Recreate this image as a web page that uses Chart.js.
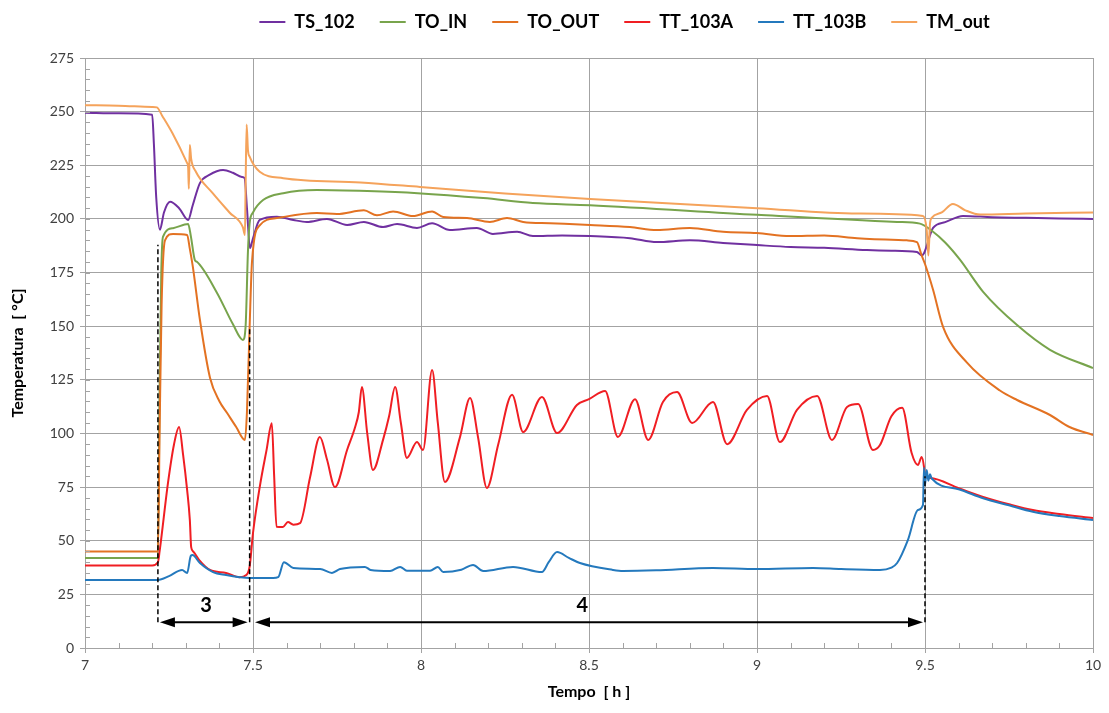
<!DOCTYPE html>
<html>
<head>
<meta charset="utf-8">
<title>Temperature</title>
<script src="https://cdn.jsdelivr.net/npm/chart.js@4.4.1/dist/chart.umd.min.js"></script>
<style>
  html, body { margin: 0; padding: 0; background: #fff; }
  #wrap { position: relative; width: 1109px; height: 713px; }
</style>
</head>
<body>
<div id="wrap"><canvas id="tempChart"></canvas></div>
<script>
// series names and colours
const seriesNames = ['TS_102', 'TO_IN', 'TO_OUT', 'TT_103A', 'TT_103B', 'TM_out'];
const seriesColors = ['#7030A0', '#78A44C', '#E37222', '#F01E23', '#2479BD', '#F5A35B'];

// axis ticks
const xTicks = [7, 7.5, 8, 8.5, 9, 9.5, 10];
const yTicks = [0, 25, 50, 75, 100, 125, 150, 175, 200, 225, 250, 275];

// [time h, temperature °C]
const TS_102 = [[7.00,249.5],[7.10,249.2],[7.20,248.6],[7.205,235],[7.212,210],[7.223,195],[7.235,203],[7.253,208],[7.28,205],[7.307,199.5],[7.32,206],[7.342,216.7],[7.37,220.5],[7.411,222.8],[7.44,221.5],[7.467,219.5],[7.475,219],[7.482,205],[7.491,186.4],[7.50,191],[7.52,199.5],[7.571,201],[7.62,199.5],[7.66,198.6],[7.72,200],[7.78,197.2],[7.83,198.6],[7.887,196.2],[7.929,197.6],[7.988,195.8],[8.033,198],[8.086,194.8],[8.166,195.8],[8.214,193],[8.286,194],[8.333,192],[8.42,192.3],[8.503,192],[8.622,191],[8.702,189.2],[8.80,190],[8.899,188.8],[9.0,187.8],[9.1,186.9],[9.2,186.5],[9.327,185.5],[9.40,185.2],[9.476,184.6],[9.49,183],[9.497,184],[9.524,195.8],[9.56,198.5],[9.613,201.4],[9.70,200.8],[9.80,200.5],[9.90,200.2],[10.0,200]];

const TO_IN = [[7.00,42],[7.217,42],[7.222,120],[7.227,175],[7.232,191.6],[7.262,195.7],[7.307,197.6],[7.315,192],[7.327,180.8],[7.333,180],[7.393,165.5],[7.44,151],[7.47,143.6],[7.478,150],[7.485,185],[7.49,198],[7.50,203],[7.53,208.8],[7.59,212],[7.69,213.5],[7.84,213],[7.99,212],[8.185,209.7],[8.333,207.4],[8.503,206.4],[9.0,201.9],[9.417,198.6],[9.485,197.8],[9.524,194],[9.56,189],[9.604,181],[9.673,166],[9.774,150.5],[9.872,139],[10.0,130.5]];

const TO_OUT = [[7.00,45],[7.217,45],[7.222,100],[7.228,160],[7.238,190],[7.262,193],[7.304,192.5],[7.312,186],[7.321,177.6],[7.342,153],[7.372,126],[7.40,115],[7.423,109.5],[7.45,103],[7.476,97],[7.482,110],[7.49,150],[7.497,180],[7.52,197],[7.571,200.4],[7.69,202.7],[7.75,202.3],[7.83,204],[7.869,201.7],[7.917,203.5],[7.976,201.3],[8.033,203.5],[8.066,200.9],[8.137,200.4],[8.205,198.6],[8.256,200.4],[8.304,198.6],[8.384,198],[8.503,197.2],[8.622,196.2],[8.702,194.8],[8.80,195.8],[8.899,194],[9.0,193.4],[9.098,192],[9.2,192.3],[9.298,191],[9.446,190],[9.476,189.2],[9.49,183],[9.50,179],[9.524,167],[9.554,149.6],[9.625,133],[9.723,120],[9.774,115.6],[9.872,108.6],[9.93,103],[10.0,99.3]];

const TT_103A = [[7.00,38.5],[7.20,38.5],[7.217,40],[7.222,45],[7.247,77],[7.265,95],[7.28,103],[7.292,90],[7.304,73.6],[7.312,59.7],[7.316,47],[7.322,45],[7.34,41],[7.372,36.4],[7.42,35],[7.46,33],[7.48,34],[7.49,38],[7.50,53.6],[7.52,75],[7.54,92],[7.556,104.7],[7.563,80],[7.570,56.5],[7.589,56.4],[7.604,58.7],[7.62,57.5],[7.64,58.2],[7.670,79.7],[7.699,98.3],[7.72,88],[7.744,75],[7.78,92.3],[7.804,103],[7.815,110],[7.824,121.7],[7.840,100],[7.857,83],[7.887,97],[7.905,108],[7.923,121.7],[7.940,105],[7.958,88.6],[7.988,96],[8.006,92.3],[8.033,129.6],[8.05,105],[8.071,77.4],[8.116,98.3],[8.146,116.5],[8.17,98],[8.196,74.6],[8.23,95],[8.271,118],[8.304,100.7],[8.36,117],[8.405,100.2],[8.464,113.3],[8.50,116],[8.548,119.8],[8.586,98.4],[8.637,116],[8.676,97],[8.72,114.7],[8.762,119.3],[8.807,104.9],[8.869,114.7],[8.911,95],[8.97,111],[9.03,117.5],[9.068,96],[9.119,111],[9.179,117.5],[9.223,97],[9.268,112.3],[9.301,113.7],[9.345,92.3],[9.366,94.6],[9.40,108],[9.432,112],[9.46,91],[9.479,85.3],[9.49,89],[9.497,84.4],[9.50,79.7],[9.515,79.2],[9.60,74.5],[9.673,70.4],[9.75,67],[9.821,64.3],[9.90,62.5],[10.0,60.6]];

const TT_103B = [[7.00,31.7],[7.217,31.7],[7.25,33.5],[7.289,36.4],[7.304,35],[7.315,43],[7.32,43.3],[7.342,39.6],[7.381,35.4],[7.42,34],[7.46,33],[7.49,32.6],[7.56,32.6],[7.575,33],[7.592,40],[7.62,37.3],[7.70,36.8],[7.735,35],[7.759,36.8],[7.833,37.8],[7.85,36.4],[7.908,35.9],[7.938,37.8],[7.958,36],[8.027,36],[8.05,37.8],[8.066,35.4],[8.12,36.5],[8.155,38.7],[8.185,35.9],[8.274,37.8],[8.36,35.4],[8.38,40],[8.405,44.7],[8.44,42],[8.473,39.6],[8.571,36.4],[8.601,35.9],[8.70,36.2],[8.869,37.3],[9.0,36.8],[9.167,37.3],[9.25,36.8],[9.366,36.4],[9.40,37.5],[9.417,39.6],[9.449,50.3],[9.479,64.3],[9.494,66.7],[9.497,84],[9.50,76],[9.505,83],[9.51,78],[9.515,81],[9.52,79],[9.60,74],[9.673,69.8],[9.75,66.5],[9.821,63.5],[9.90,61.5],[10.0,59.7]];

const TM_out = [[7.00,253],[7.10,252.8],[7.20,252.2],[7.214,252],[7.23,248],[7.26,240],[7.304,226],[7.307,224],[7.309,214],[7.312,234.5],[7.316,228],[7.33,222],[7.38,212],[7.43,203],[7.47,196],[7.476,192.5],[7.478,215],[7.481,244],[7.485,232],[7.49,229],[7.52,222],[7.59,219],[7.82,217],[7.997,214.9],[8.25,211.8],[8.503,209.3],[9.0,205],[9.3,202.5],[9.494,201.4],[9.505,195],[9.51,183],[9.515,198],[9.52,200.5],[9.55,203],[9.583,207],[9.62,204],[9.664,202],[9.80,202.5],[10.0,203]];

// phase markers: dashed verticals [x, yTop] and arrows [xFrom, xTo, label, labelX]
const phaseLines = [[7.217, 188], [7.49, 150], [9.5, 80]];
const phaseArrows = [[7.217, 7.49, '3', 7.36], [7.50, 9.5, '4', 8.48]];
const arrowY = 12;
const labelY = 20;

const seriesData = [TS_102, TO_IN, TO_OUT, TT_103A, TT_103B, TM_out];

const gridColor = '#a3a3a3';
const textColor = '#404040';

// legend: wide item spacing, pulled up and to the right like the original
const legendGap = {
  id: 'legendGap',
  beforeInit(chart) {
    const fit = chart.legend.fit;
    chart.legend.fit = function () {
      fit.bind(chart.legend)();
      this.height += 5;
    };
  },
  afterLayout(chart) {
    const lg = chart.legend;
    lg.top -= 12;
    lg.bottom -= 12;
    lg.left += 76;
    lg.right += 76;
  }
};

// extra drawing: minor ticks, dashed phase lines, arrows
const phasePlugin = {
  id: 'phases',
  afterDraw(chart) {
    const { ctx, chartArea: area, scales: { x, y } } = chart;
    ctx.save();

    // minor ticks
    ctx.strokeStyle = gridColor;
    ctx.lineWidth = 1;
    ctx.beginPath();
    for (let v = 7.1; v < 10; v += 0.1) {
      const px = Math.round(x.getPixelForValue(v)) + 0.5;
      ctx.moveTo(px, area.bottom);
      ctx.lineTo(px, area.bottom - 5);
    }
    for (let v = 5; v < 275; v += 5) {
      const py = Math.round(y.getPixelForValue(v)) + 0.5;
      ctx.moveTo(area.left, py);
      ctx.lineTo(area.left + 5, py);
    }
    ctx.stroke();

    // dashed verticals
    ctx.strokeStyle = '#000';
    ctx.lineWidth = 1.5;
    ctx.setLineDash([5, 3]);
    phaseLines.forEach(([xv, top]) => {
      const px = x.getPixelForValue(xv);
      ctx.beginPath();
      ctx.moveTo(px, y.getPixelForValue(arrowY));
      ctx.lineTo(px, y.getPixelForValue(top));
      ctx.stroke();
    });
    ctx.setLineDash([]);

    // double arrows
    const py = y.getPixelForValue(arrowY);
    phaseArrows.forEach(([x0, x1, label, lx]) => {
      const a = x.getPixelForValue(x0) + 2;
      const b = x.getPixelForValue(x1) - 2;
      ctx.strokeStyle = '#000';
      ctx.fillStyle = '#000';
      ctx.lineWidth = 2;
      ctx.beginPath();
      ctx.moveTo(a + 10, py);
      ctx.lineTo(b - 10, py);
      ctx.stroke();
      ctx.beginPath();
      ctx.moveTo(a, py); ctx.lineTo(a + 15, py - 5); ctx.lineTo(a + 15, py + 5); ctx.closePath();
      ctx.moveTo(b, py); ctx.lineTo(b - 15, py - 5); ctx.lineTo(b - 15, py + 5); ctx.closePath();
      ctx.fill();
      ctx.font = 'bold 20px Lato, sans-serif';
      ctx.textAlign = 'center';
      ctx.textBaseline = 'middle';
      ctx.fillText(label, x.getPixelForValue(lx), y.getPixelForValue(labelY));
    });
    ctx.restore();
  }
};

new Chart(document.getElementById('tempChart'), {
  type: 'line',
  data: {
    datasets: seriesNames.map((name, i) => ({
      label: name,
      data: seriesData[i].map(([t, v]) => ({ x: t, y: v })),
      borderColor: seriesColors[i],
      backgroundColor: seriesColors[i],
      borderWidth: 2,
      pointRadius: 0,
      cubicInterpolationMode: 'monotone',
      order: seriesNames.length - i
    }))
  },
  options: {
    responsive: true,
    maintainAspectRatio: false,
    animation: false,
    layout: { padding: { top: 0, right: 16, left: 4, bottom: 4 } },
    plugins: {
      legend: {
        position: 'top',
        labels: {
          usePointStyle: true,
          pointStyle: 'line',
          pointStyleWidth: 26,
          color: '#000',
          font: { family: 'Lato', size: 18, weight: 'bold' },
          padding: 25,
          sort: (a, b) => a.datasetIndex - b.datasetIndex
        }
      },
      tooltip: { enabled: false }
    },
    scales: {
      x: {
        type: 'linear',
        min: 7,
        max: 10,
        afterBuildTicks: (axis) => { axis.ticks = xTicks.map(v => ({ value: v })); },
        afterFit: (axis) => { axis.height = 61; },
        ticks: {
          color: textColor,
          font: { family: 'Lato', size: 14 },
          padding: 4,
          maxRotation: 0,
          callback: (v) => String(v)
        },
        grid: { color: gridColor, tickLength: 5 },
        border: { color: gridColor },
        title: {
          display: true,
          text: 'Tempo  [ h ]',
          color: '#000',
          font: { family: 'Lato', size: 16, weight: 'bold' },
          padding: { top: 2, bottom: 8 }
        }
      },
      y: {
        min: 0,
        max: 275,
        afterBuildTicks: (axis) => { axis.ticks = yTicks.map(v => ({ value: v })); },
        afterFit: (axis) => { axis.width = 81; },
        ticks: {
          color: textColor,
          font: { family: 'Lato', size: 14 },
          padding: 6
        },
        grid: { color: gridColor, tickLength: 5 },
        border: { color: gridColor },
        title: {
          display: true,
          text: 'Temperatura  [ °C]',
          color: '#000',
          font: { family: 'Lato', size: 16, weight: 'bold' },
          padding: { bottom: 4 }
        }
      }
    }
  },
  plugins: [legendGap, phasePlugin]
});
</script>
</body>
</html>
